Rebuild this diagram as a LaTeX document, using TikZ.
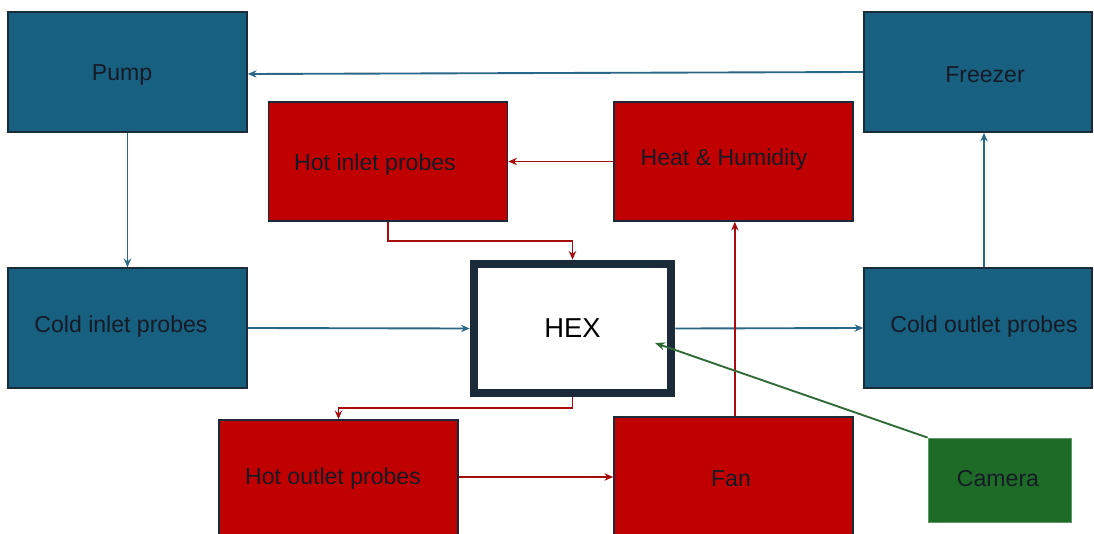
\documentclass[tikz,border=0pt]{standalone}
\usepackage{fontspec}
\setmainfont{Liberation Sans}
\usetikzlibrary{arrows.meta}
\definecolor{bluefill}{HTML}{18607F}
\definecolor{redfill}{HTML}{C00000}
\definecolor{greenfill}{HTML}{1E6B28}
\definecolor{edgedark}{HTML}{1C2B3A}
\definecolor{bluearrow}{HTML}{2B6786}
\definecolor{redarrow}{HTML}{A50D0D}
\definecolor{greenarrow}{HTML}{2F6A38}
\definecolor{txt}{HTML}{161A26}
\tikzset{
  box/.style={draw=edgedark, line width=1.2pt, minimum width=179.25pt, minimum height=90pt, inner sep=0pt},
  bluebox/.style={box, fill=bluefill},
  redbox/.style={box, fill=redfill},
  lbl/.style={text=txt, font=\fontsize{17.3}{20}\selectfont, inner sep=0pt},
  barrow/.style={draw=bluearrow, line width=1.4pt, -{Stealth[length=6.5pt,width=5.5pt]}},
  rarrow/.style={draw=redarrow, line width=1.4pt, -{Stealth[length=6.5pt,width=5.5pt]}},
  garrow/.style={draw=greenarrow, line width=1.4pt, -{Stealth[length=7.5pt,width=6pt]}},
}
\begin{document}
\begin{tikzpicture}[x=0.75pt,y=-0.75pt]
\useasboundingbox[fill=white] (0,0) rectangle (1094,534);
% blue boxes
\node[bluebox] (pump) at (127.5,72) {};
\node[lbl] (pumpt) at (122,75) {Pump};
\node[bluebox, minimum width=171pt] (fr) at (978,72) {};
\node[lbl] (frt) at (985,75) {Freezer};
\node[bluebox] (ci) at (127.5,328) {};
\node[lbl] (cit) at (121,327) {Cold inlet probes};
\node[bluebox, minimum width=171pt] (co) at (978,328) {};
\node[lbl] (cot) at (984,327) {Cold outlet probes};
% red boxes
\node[redbox, minimum height=89.25pt] (hi) at (388,161.5) {};
\node[lbl] (hit) at (375,165) {Hot inlet probes};
\node[redbox, minimum height=89.25pt] (hh) at (733.5,161.5) {};
\node[lbl] (hht) at (724,160) {Heat \& Humidity};
\node[redbox] (ho) at (338.5,480) {};
\node[lbl] (hot) at (333,479) {Hot outlet probes};
\node[redbox, minimum height=92.25pt] (fan) at (733.5,478.5) {};
\node[lbl] (fant) at (731,479) {Fan};
% camera
\node[draw=greenfill!70!white, line width=0.6pt, fill=greenfill, minimum width=107.25pt, minimum height=63pt,
  inner sep=0pt] (cam) at (999.5,480) {};
\node[lbl] (camt) at (998,479) {Camera};
% HEX
\node[draw=edgedark, line width=6.5pt, fill=white, minimum width=147.75pt, minimum height=96.75pt,
  inner sep=0pt, font=\fontsize{20.5}{24}\selectfont, text=black] (hex) at (572.5,328.5) {HEX};
\coordinate (camtip) at (655,343);
% blue connectors
\draw[barrow] (fr.west) -- ([yshift=-1.5pt]pump.east);
\draw[barrow] (pump.south) -- (ci.north);
\draw[barrow] (ci.east) -- (hex.west);
\draw[barrow] (hex.east) -- (co.west);
\draw[barrow] ([xshift=4.5pt]co.north) -- ([xshift=4.5pt]fr.south);
% red connectors
\draw[rarrow] (hh.west) -- (hi.east);
\draw[rarrow] (hi.south) -- ++(0,19) -| (hex.north);
\draw[rarrow] (hex.south) -- ++(0,11) -| (ho.north);
\draw[rarrow] ([yshift=2.25pt]ho.east) -- ([yshift=2.25pt]ho.east -| fan.west);
\draw[rarrow] ([xshift=1pt]fan.north) -- ([xshift=1pt]hh.south);
% green connector
\draw[garrow] (cam.north west) -- (camtip);
\end{tikzpicture}
\end{document}
